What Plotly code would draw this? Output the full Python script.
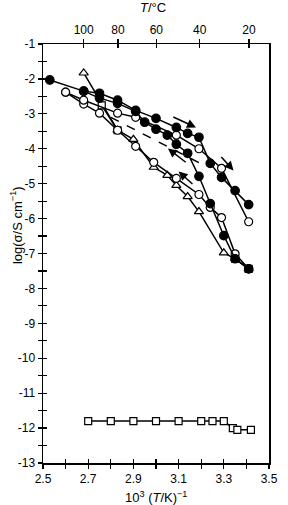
import plotly.graph_objects as go

# ---- data ----
f1_x = [2.53, 2.68, 2.75, 2.83, 2.91, 3.00, 3.09, 3.14, 3.19, 3.24, 3.29, 3.35, 3.41]
f1_y = [-2.03, -2.35, -2.41, -2.61, -2.90, -3.13, -3.39, -3.56, -3.67, -4.42, -4.82, -5.20, -5.60]

f2_x = [2.68, 2.75, 2.83, 2.91, 2.95, 3.00, 3.05, 3.09, 3.14, 3.19, 3.24, 3.30, 3.35, 3.41]
f2_y = [-2.35, -2.55, -2.70, -2.93, -3.24, -3.44, -3.61, -3.87, -4.13, -4.79, -5.57, -6.49, -7.15, -7.44]

h1_x = [2.60, 2.68, 2.83, 2.91, 3.09, 3.19, 3.29, 3.41]
h1_y = [-2.38, -2.61, -2.98, -3.10, -3.61, -4.00, -4.56, -6.09]

h2_x = [2.60, 2.68, 2.75, 2.83, 2.91, 2.99, 3.09, 3.19, 3.24, 3.29, 3.35, 3.41]
h2_y = [-2.38, -2.72, -2.98, -3.47, -3.93, -4.39, -4.85, -5.31, -5.68, -5.97, -7.01, -7.44]

tri_x = [2.68, 2.83, 2.90, 2.99, 3.05, 3.09, 3.14, 3.19, 3.30, 3.35, 3.41]
tri_y = [-1.83, -3.47, -3.73, -4.53, -4.76, -5.05, -5.37, -5.80, -6.98, -7.15, -7.44]

sq_x = [2.76, 2.83, None, 3.35, 3.41]
sq_y = [-2.76, -3.47, None, -7.15, -7.44]

sqb_x = [2.70, 2.80, 2.90, 3.00, 3.10, 3.20, 3.25, 3.30, 3.34, 3.36, 3.42]
sqb_y = [-11.8, -11.8, -11.8, -11.8, -11.8, -11.8, -11.8, -11.8, -12.0, -12.05, -12.05]

dash_x = [2.80, 3.22]
dash_y = [-3.10, -4.50]

# arrows: (tail_x, tail_y, head_x, head_y)
arrows = [
    (3.07, -3.07, 3.177, -3.39),
    (3.283, -4.19, 3.343, -4.62),
    (3.138, -4.42, 3.053, -3.99),
    (3.168, -5.05, 3.100, -4.65),
]

x_ticks = [2.5, 2.7, 2.9, 3.1, 3.3, 3.5]
x_minor = [2.6, 2.8, 3.0, 3.2, 3.4]
y_ticks = list(range(-1, -14, -1))
y_minor = [v - 0.5 for v in range(-1, -13, -1)]
top_C = [100, 80, 60, 40, 20]
top_pos = [1000.0 / (c + 273.15) for c in top_C]

FONT = "Liberation Sans, Arial, sans-serif"
LW = 1.5

fig = go.Figure()

def add(x, y, symbol, fill, size=8, dash=None, mode="lines+markers"):
    fig.add_trace(go.Scatter(
        x=x, y=y, mode=mode,
        line=dict(color="black", width=LW, dash=dash),
        marker=dict(symbol=symbol, size=size, color=fill,
                    line=dict(color="black", width=1.2)),
        showlegend=False, hoverinfo="skip"))

add(dash_x, dash_y, "circle", "black", dash="dash", mode="lines")
add(tri_x, tri_y, "triangle-up", "white", size=8)
add(sq_x, sq_y, "square", "white", size=7)
add(h2_x, h2_y, "circle", "white", size=8)
add(h1_x, h1_y, "circle", "white", size=8)
add(f2_x, f2_y, "circle", "black", size=8.5)
add(f1_x, f1_y, "circle", "black", size=8.5)
add(sqb_x, sqb_y, "square", "white", size=7)

anns = []
for tx, ty, hx, hy in arrows:
    anns.append(dict(x=hx, y=hy, ax=tx, ay=ty, xref="x", yref="y",
                     axref="x", ayref="y", text="", showarrow=True,
                     arrowhead=2, arrowsize=1.2, arrowwidth=1.5,
                     arrowcolor="black"))

anns.append(dict(x=0.5, y=-0.081, xref="paper", yref="paper",
                 text="10<sup>3</sup> (<i>T</i>/K)<sup>−1</sup>",
                 showarrow=False, xanchor="center", yanchor="middle",
                 font=dict(size=13, family=FONT, color="black")))
anns.append(dict(x=0.485, y=1.088, xref="paper", yref="paper",
                 text="<i>T</i>/°C", showarrow=False,
                 xanchor="center", yanchor="middle",
                 font=dict(size=13, family=FONT, color="black")))
anns.append(dict(x=-0.119, y=0.568, xref="paper", yref="paper",
                 text="log(σ/S cm<sup>−1</sup>)", showarrow=False,
                 textangle=-90, xanchor="center", yanchor="middle",
                 font=dict(size=13, family=FONT, color="black")))

common = dict(showgrid=False, zeroline=False, tickcolor="black",
              tickwidth=1.2, linecolor="black")

fig.update_layout(
    width=288, height=505,
    margin=dict(l=43, r=10, t=44, b=42),
    paper_bgcolor="white", plot_bgcolor="white",
    font=dict(family=FONT, size=12, color="black"),
    annotations=anns,
    xaxis=dict(range=[2.5, 3.5], tickvals=x_ticks,
               ticktext=[f"{v:.1f}" for v in x_ticks],
               ticks="outside", ticklen=4, showline=True, linewidth=LW,
               minor=dict(tickvals=x_minor, ticks="outside", ticklen=4,
                          tickcolor="black", tickwidth=1.2),
               **common),
    xaxis2=dict(range=[2.5, 3.5], overlaying="x", side="top", anchor="y",
                tickvals=top_pos, ticktext=[str(c) for c in top_C],
                ticks="outside", ticklen=4, showline=True, linewidth=LW,
                **common),
    xaxis3=dict(range=[2.5, 3.5], overlaying="x", side="bottom", anchor="y",
                tickvals=x_ticks + x_minor, ticks="inside", ticklen=4,
                showticklabels=False, showline=False, **common),
    xaxis4=dict(range=[2.5, 3.5], overlaying="x", side="top", anchor="y",
                tickvals=top_pos, ticks="inside", ticklen=4,
                showticklabels=False, showline=False, **common),
    yaxis=dict(range=[-13, -1], tickvals=y_ticks,
               ticktext=[str(v) for v in y_ticks],
               ticks="outside", ticklen=4, showline=True, linewidth=LW,
               mirror=True,
               minor=dict(tickvals=y_minor, ticks="outside", ticklen=4,
                          tickcolor="black", tickwidth=1.2),
               **common),
    yaxis2=dict(range=[-13, -1], overlaying="y", side="left", anchor="x",
                tickvals=y_ticks + y_minor, ticks="inside", ticklen=4,
                showticklabels=False, showline=False, **common),
)

# dummy invisible traces so overlay axes render
for xa, ya in [("x2", "y"), ("x3", "y"), ("x4", "y"), ("x", "y2")]:
    fig.add_trace(go.Scatter(x=[None], y=[None], xaxis=xa, yaxis=ya,
                             showlegend=False, hoverinfo="skip"))

fig.write_html(
    "out.html",
    config={"displayModeBar": False, "staticPlot": True},
    post_script="document.body.style.margin='0';document.body.style.padding='0';document.body.style.overflow='hidden';",
)
